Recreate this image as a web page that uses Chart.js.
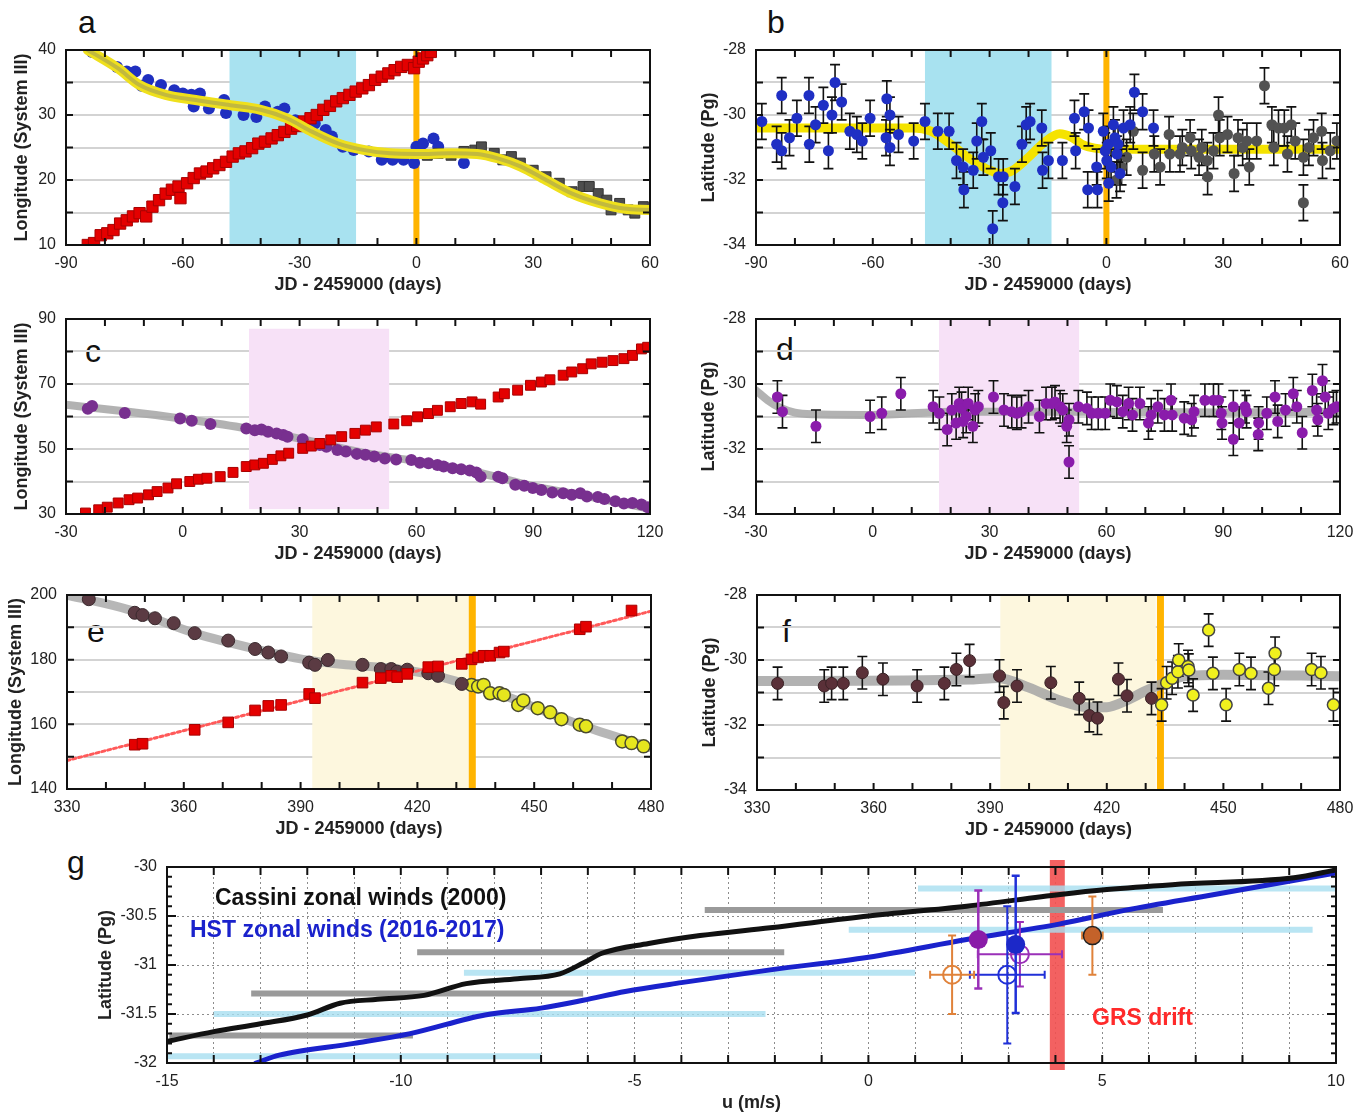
<!DOCTYPE html>
<html>
<head>
<meta charset="utf-8">
<script src="https://cdn.jsdelivr.net/npm/chart.js@4.4.1/dist/chart.umd.min.js"></script>
<style>
  body { margin: 0; background: #fff; }
  #fig { position: relative; width: 1370px; height: 1115px; overflow: hidden; font-family: "Liberation Sans", Arial, sans-serif; }
  #fig canvas { position: absolute; }
  .lbl { position: absolute; font-size: 32px; line-height: 32px; color: #111; }
  .note { position: absolute; font-weight: bold; font-size: 23px; line-height: 23px; white-space: nowrap; }
</style>
</head>
<body>
<div id="fig">
  <div class="lbl" style="left:78px;top:6px">a</div>
  <div class="lbl" style="left:767px;top:6px">b</div>
  <div class="lbl" style="left:85px;top:335px">c</div>
  <div class="lbl" style="left:776px;top:333px">d</div>
  <div class="lbl" style="left:87px;top:615px">e</div>
  <div class="lbl" style="left:782px;top:615px">f</div>
  <div class="lbl" style="left:67px;top:846px">g</div>
</div>
<script>
// ---- panel a: longitude vs time ----
const aRed = [[-84.4,10.0],[-82.8,10.3],[-81.1,11.5],[-79.4,11.8],[-77.8,12.3],[-76.1,13.3],[-74.4,13.8],[-72.8,14.4],[-71.1,14.9],[-69.4,14.4],[-67.8,15.9],[-66.1,16.9],[-64.4,17.9],[-62.8,18.5],[-61.1,19.0],[-60.6,17.2],[-58.9,19.5],[-57.2,20.3],[-55.6,21.0],[-53.9,21.3],[-52.2,21.8],[-50.6,22.3],[-48.9,22.8],[-47.2,23.6],[-45.6,24.1],[-43.9,24.4],[-42.2,24.9],[-40.6,25.6],[-38.9,25.9],[-37.2,26.4],[-35.6,26.9],[-33.9,27.4],[-32.2,27.9],[-30.6,28.3],[-28.9,29.0],[-27.2,29.5],[-25.6,30.0],[-23.9,30.8],[-22.2,31.4],[-20.6,32.1],[-18.9,32.6],[-17.2,33.1],[-15.6,33.6],[-13.9,34.1],[-12.2,34.6],[-10.6,35.4],[-8.9,35.9],[-7.2,36.4],[-5.6,36.9],[-3.9,37.4],[-2.2,37.7],[-0.6,37.2],[0.6,38.2],[1.7,38.7],[2.8,39.2],[3.7,39.7]];
const aBlue = [[-83.3,39.7],[-76.9,37.4],[-74.4,36.7],[-72.2,36.7],[-70.6,34.5],[-68.9,35.4],[-65.6,34.6],[-62.2,33.8],[-60.0,33.3],[-57.8,33.1],[-55.6,33.3],[-57.2,31.3],[-53.3,31.0],[-49.4,32.3],[-48.9,30.3],[-44.4,30.0],[-41.1,29.7],[-38.9,31.3],[-35.6,30.5],[-33.9,31.0],[-31.1,29.2],[-26.1,28.7],[-23.3,27.7],[-21.7,26.7],[-18.9,25.1],[-16.1,24.6],[-12.2,24.4],[-8.9,23.1],[-6.1,23.1],[-3.3,23.1],[-0.6,22.6],[0.0,25.1],[1.7,25.6],[4.4,26.4],[5.6,25.1],[12.2,22.6]];
const aGray = [[2.8,23.8],[5.6,24.1],[8.9,23.8],[12.2,24.4],[15.0,24.6],[16.7,25.1],[20.0,24.1],[22.2,23.1],[24.4,23.6],[26.7,22.6],[30.0,21.5],[33.3,20.5],[36.7,19.5],[40.0,18.2],[42.8,19.0],[44.4,19.0],[46.7,17.9],[48.9,16.9],[50.0,15.4],[52.2,16.4],[54.4,15.4],[56.1,14.9],[58.3,15.9]];
const aFit = [[-84.4,40.0],[-76.7,37.2],[-71.1,34.6],[-64.4,33.1],[-56.7,32.3],[-47.8,31.5],[-40.0,30.8],[-33.3,29.5],[-26.7,27.4],[-20.0,25.6],[-13.3,24.6],[-6.7,24.1],[0,24.0],[8.9,24.1],[15.6,24.0],[21.1,23.3],[26.7,22.1],[33.3,20.0],[40.0,17.9],[46.7,16.5],[53.3,15.6],[60.0,15.4]];
const aBand = [-48, -15.5];
const aGrs = 0;
const aXLabels = [-90, -60, -30, 0, 30, 60];
const aYLabels = [10, 20, 30, 40];

// ---- panel b: latitude vs time ----
const bBlue = [[-88.5,-30.2],[-84.7,-30.9],[-83.4,-31.1],[-83.4,-29.4],[-81.4,-30.7],[-79.5,-30.1],[-76.4,-29.4],[-76.3,-30.9],[-74.7,-30.3],[-72.7,-29.7],[-71.4,-31.1],[-70.5,-30.0],[-69.7,-29.0],[-68.0,-29.6],[-65.9,-30.5],[-64.1,-30.6],[-62.7,-30.8],[-60.7,-30.1],[-56.4,-29.5],[-55.6,-30.0],[-56.6,-30.7],[-55.6,-31.0],[-53.4,-30.6],[-49.5,-30.8],[-46.6,-30.2],[-43.3,-30.5],[-40.4,-30.5],[-38.5,-31.4],[-36.8,-31.6],[-36.6,-32.3],[-34.2,-31.7],[-33.3,-30.8],[-32.0,-30.2],[-31.6,-31.3],[-29.7,-31.1],[-29.2,-33.5],[-27.7,-31.9],[-26.5,-31.9],[-26.6,-32.7],[-23.5,-32.2],[-21.7,-30.9],[-20.6,-30.3],[-19.6,-30.2],[-16.6,-30.4],[-16.4,-31.7],[-14.9,-31.4],[-11.3,-31.4],[-8.2,-30.1],[-7.9,-31.1],[-5.7,-29.9],[-4.6,-30.4],[-4.8,-32.3],[-2.3,-32.3],[-2.5,-31.6],[-0.8,-30.5],[-0.3,-31.1],[0.1,-31.4],[0.6,-32.1],[0.5,-30.9],[1.2,-31.6],[1.8,-30.3],[2.2,-30.7],[2.7,-31.2],[3.0,-30.9],[3.5,-31.8],[4.4,-30.4],[6.1,-30.3],[7.2,-29.3],[9.3,-29.9],[12.1,-30.4]];
const bGray = [[6.9,-30.5],[5.2,-31.3],[2.6,-32.0],[3.9,-31.6],[9.3,-31.7],[12.3,-31.2],[13.8,-31.6],[16.1,-30.6],[16.3,-31.2],[18.9,-31.2],[19.5,-31.0],[21.5,-30.7],[21.8,-31.1],[23.8,-31.3],[24.5,-31.0],[26.0,-31.9],[25.9,-31.4],[27.5,-31.1],[28.8,-30.0],[29.1,-30.7],[31.1,-30.6],[32.8,-31.8],[33.8,-30.7],[35.0,-31.0],[36.1,-30.8],[36.7,-31.6],[38.6,-30.8],[40.6,-29.1],[42.5,-30.3],[43.0,-31.0],[44.2,-30.4],[45.7,-30.4],[46.5,-31.2],[47.5,-30.3],[48.5,-30.8],[50.6,-32.7],[50.6,-31.3],[52.0,-31.0],[53.2,-30.7],[55.3,-30.5],[55.5,-31.4],[57.5,-31.1],[59.2,-30.8]];
const bFit = [[-90,-30.4],[-50,-30.4],[-45,-30.5],[-40,-30.9],[-35,-31.35],[-30,-31.7],[-27,-31.8],[-24,-31.7],[-20,-31.3],[-16,-30.85],[-12,-30.58],[-9,-30.68],[-6,-30.92],[-3,-31.02],[0,-31.05],[30,-31.05],[60,-31.05]];
const bErr = 0.55;
const bBand = [-46.6, -14.1];
const bGrs = 0;
const bXLabels = [-90, -60, -30, 0, 30, 60];
const bYLabels = [-28, -30, -32, -34];

// ---- panel c ----
const cPurple = [[-24.4,62.4],[-23.3,63.2],[-14.9,61.1],[-0.7,59.4],[2.3,58.7],[7.1,57.7],[16.3,56.3],[18.5,55.8],[20.2,56.0],[21.9,55.3],[24.1,54.8],[25.8,54.3],[26.9,53.8],[30.8,53.0],[35.2,51.2],[36.9,50.7],[39.7,49.7],[41.9,49.2],[44.7,48.5],[46.9,48.2],[49.2,47.7],[51.9,47.1],[54.8,46.8],[58.7,46.6],[60.9,45.8],[63.1,45.6],[65.4,45.1],[67.0,44.6],[69.3,44.1],[71.5,43.8],[73.7,43.4],[75.4,42.8],[76.5,41.5],[81.0,41.5],[82.1,41.0],[85.4,39.0],[87.7,38.7],[89.9,38.0],[92.1,37.4],[94.9,36.6],[97.7,36.4],[99.9,35.9],[102.1,36.4],[103.8,35.4],[106.6,35.2],[108.3,34.6],[111.1,33.9],[113.3,33.2],[115.5,33.4],[117.8,32.9],[119.4,32.1]];
const cRed = [[-25.0,30.3],[-21.6,31.3],[-19.4,32.1],[-16.6,33.4],[-13.8,34.4],[-11.6,34.9],[-8.8,35.9],[-6.6,36.9],[-3.8,38.0],[-1.6,39.3],[1.8,40.0],[4.0,40.7],[6.2,41.0],[9.6,41.5],[12.9,42.8],[16.3,44.6],[18.5,45.1],[20.7,45.6],[23.0,46.8],[25.2,47.9],[27.2,48.7],[30.8,50.2],[33.0,50.9],[35.2,51.7],[38.0,52.8],[40.8,53.8],[44.2,54.8],[46.9,55.8],[49.7,56.8],[54.2,57.7],[57.5,58.7],[60.3,59.9],[63.1,60.9],[65.4,61.9],[68.7,63.0],[71.5,64.0],[74.3,64.5],[76.5,63.8],[81.0,66.0],[82.6,67.0],[86.0,68.1],[89.3,69.6],[92.1,70.6],[94.3,71.3],[97.7,72.7],[99.9,73.7],[102.7,74.7],[104.9,76.2],[107.7,76.7],[110.5,77.2],[113.3,77.8],[115.5,78.8],[117.8,80.8],[119.4,81.3]];
const cFit = [[-30,63.6],[-15,61.6],[0,59.3],[15,56.6],[30,53.2],[45,49.2],[60,46.2],[75,43.0],[90,38.6],[105,35.2],[120,31.6]];
const cBand = [17, 53];
const cXLabels = [-30, 0, 30, 60, 90, 120];
const cYLabels = [30, 50, 70, 90];

// ---- panel d ----
const dPurple = [[-24.5,-30.4],[-23.2,-30.85],[-14.6,-31.3],[-0.7,-31.0],[2.3,-30.9],[7.2,-30.3],[15.5,-30.7],[17.1,-30.9],[19.1,-31.4],[20.3,-30.8],[21.4,-31.2],[22.2,-30.6],[22.8,-30.75],[23.2,-31.15],[24.0,-31.0],[24.5,-30.6],[25.7,-31.3],[26.3,-30.8],[27.1,-30.7],[31.0,-30.4],[33.7,-30.8],[35.7,-30.85],[37.0,-30.9],[38.2,-30.85],[40.0,-30.7],[42.8,-31.0],[44.5,-30.6],[46.0,-30.6],[46.8,-30.55],[48.1,-30.7],[48.8,-30.8],[49.8,-31.3],[50.4,-31.1],[50.4,-32.4],[52.8,-30.7],[55.0,-30.75],[56.2,-30.9],[57.9,-30.9],[59.7,-30.9],[61.0,-30.5],[62.7,-30.55],[64.2,-30.85],[65.7,-30.6],[66.7,-30.95],[68.6,-30.6],[70.8,-31.2],[71.5,-30.95],[73.2,-30.7],[74.9,-30.95],[76.6,-30.5],[76.9,-30.95],[80.0,-31.05],[81.9,-31.1],[82.5,-30.85],[85.3,-30.5],[87.5,-30.5],[88.8,-30.5],[89.5,-30.9],[89.7,-31.2],[92.6,-31.7],[92.6,-30.7],[94.1,-31.2],[95.6,-30.7],[96.0,-30.85],[99.0,-31.55],[99.1,-31.2],[101.2,-30.9],[103.3,-30.4],[104.0,-31.15],[106.0,-30.8],[108.0,-30.3],[108.9,-30.7],[110.3,-31.5],[112.9,-30.2],[114.0,-30.8],[114.3,-31.1],[115.5,-29.9],[116.2,-30.4],[117.0,-30.9],[118.3,-30.75],[119.1,-30.7]];
const dFit = [[-30,-30.2],[-27,-30.5],[-24,-30.72],[-20,-30.88],[-15,-30.93],[0,-30.95],[20,-30.85],[50,-30.85],[90,-30.88],[120,-30.85]];
const dErr = 0.5;
const dBand = [17, 53];
const dXLabels = [-30, 0, 30, 60, 90, 120];
const dYLabels = [-28, -30, -32, -34];

// ---- panel e ----
const eDark = [[335.6,198.7],[347.4,194.5],[349.4,193.8],[352.6,192.8],[357.4,191.3],[362.8,188.2],[371.4,185.9],[378.3,183.3],[381.7,182.2],[385.0,181.0],[392.2,179.1],[393.7,178.4],[397.0,179.9],[405.9,178.4],[410.6,177.1],[413.3,177.1],[414.8,176.3],[417.4,176.9],[422.8,175.8],[425.3,175.0],[431.4,172.5]];
const eYellow = [[433.9,172.2],[435.6,171.7],[437.0,172.2],[438.7,169.6],[441.1,169.6],[442.2,169.1],[445.9,166.0],[447.2,167.4],[450.9,165.0],[454.1,163.7],[457.0,161.6],[461.7,159.9],[463.3,159.4],[472.6,154.7],[475.0,154.2],[478.1,153.2]];
const eRed = [[347.4,153.7],[349.4,154.0],[362.8,158.3],[371.4,160.6],[378.3,164.3],[381.7,165.7],[385.0,166.0],[392.2,169.4],[393.7,168.1],[405.9,172.9],[410.6,174.3],[413.3,175.0],[414.8,174.6],[417.4,175.6],[422.8,177.7],[425.3,177.9],[431.4,178.7],[433.9,180.1],[435.6,180.7],[437.0,181.2],[438.7,181.2],[441.1,182.2],[442.2,182.5],[461.7,189.4],[463.3,190.2],[475.0,195.2]];
const eRedFit = [[330,148.8],[480,195.0]];
const eFit = [[330,200.0],[346,195.4],[362.8,188.2],[379.4,183.0],[390.6,180.1],[401.7,178.4],[412.8,177.4],[423.9,175.3],[431.7,172.7],[440.6,169.6],[451.7,164.5],[462.8,159.4],[480,152.8]];
const eBand = [393, 433.3];
const eGrs = 434.1;
const eXLabels = [330, 360, 390, 420, 450, 480];
const eYLabels = [140, 160, 180, 200];

// ---- panel f ----
const fDark = [[335.3,-30.72],[347.3,-30.8],[349.2,-30.72],[352.2,-30.72],[357.1,-30.39],[362.4,-30.59],[371.2,-30.8],[378.2,-30.72],[381.3,-30.29],[384.7,-30.02],[392.4,-30.49],[393.5,-31.31],[396.9,-30.8],[405.6,-30.7],[412.9,-31.18],[415.5,-31.71],[417.6,-31.79],[423.0,-30.59],[425.2,-31.1],[431.5,-31.18]];
const fYellow = [[434.1,-31.38],[435.4,-30.7],[436.8,-30.56],[438.3,-30.36],[438.5,-30.0],[440.9,-30.2],[441.1,-30.31],[442.2,-31.08],[446.2,-29.08],[447.3,-30.41],[450.7,-31.38],[454.1,-30.29],[457.1,-30.41],[461.6,-30.87],[463.1,-30.29],[463.3,-29.79],[472.7,-30.29],[475.1,-30.39],[478.3,-31.38]];
const fFit = [[330,-30.65],[385,-30.6],[392,-30.55],[400,-30.85],[408,-31.25],[415,-31.45],[420,-31.45],[425,-31.25],[430,-30.95],[435,-30.7],[440,-30.5],[450,-30.45],[480,-30.5]];
const fErr = 0.5;
const fBand = [392.6, 432.6];
const fGrs = 433.8;
const fXLabels = [330, 360, 390, 420, 450, 480];
const fYLabels = [-28, -30, -32, -34];

// ---- panel g: zonal wind profiles ----
const gCassini = [[-15,-31.78],[-14,-31.68],[-13,-31.6],[-12,-31.51],[-11.3,-31.39],[-10.5,-31.35],[-9.5,-31.31],[-8.6,-31.19],[-7.5,-31.14],[-6.6,-31.09],[-6.1,-30.98],[-5.7,-30.88],[-4.7,-30.78],[-3.6,-30.7],[-2.1,-30.62],[0,-30.5],[2.1,-30.4],[4.1,-30.28],[5.1,-30.23],[6.5,-30.18],[9.1,-30.11],[10,-30.03]];
const gHST = [[-13.1,-32.0],[-12.6,-31.92],[-11.0,-31.8],[-9.8,-31.7],[-8.2,-31.51],[-7.0,-31.44],[-6.1,-31.36],[-5.2,-31.27],[-4.0,-31.18],[-2.1,-31.05],[0,-30.92],[2.1,-30.74],[4.1,-30.58],[5.5,-30.44],[7.4,-30.28],[10,-30.06]];
const gGrayBars = [[-30.44,-3.5,6.3],[-30.87,-9.65,-1.8],[-31.29,-13.2,-6.1],[-31.72,-14.95,-9.74]];
const gCyanBars = [[-30.22,1.06,10],[-30.64,-0.42,9.5],[-31.08,-8.65,1.0],[-31.5,-14.0,-2.2],[-31.93,-15,-7.0]];
const gGrs = [3.88, 4.2];
const gPurpleFill = [[2.35,-30.74]], gPurpleFillErrY = [0.5];
const gBlueFill = [[3.15,-30.79]], gBlueFillErrY = [0.7];
const gPurpleOpen = [[3.24,-30.89]], gPurpleOpenErrX = [0.9], gPurpleOpenErrY = [0.33];
const gBlueOpen = [[2.97,-31.1]], gBlueOpenErrX = [0.8], gBlueOpenErrY = [0.7];
const gOrangeOpen = [[1.79,-31.1]], gOrangeOpenErrX = [0.47], gOrangeOpenErrY = [0.4];
const gBrownFill = [[4.79,-30.7]], gBrownFillErrX = [0.22], gBrownFillErrY = [0.4];
const gXLabels = [-15, -10, -5, 0, 5, 10];
const gYLabels = [-30, -30.5, -31, -31.5, -32];

// ------------------------------------------------------------------
const FONT = '"Liberation Sans", Arial, sans-serif';
Chart.defaults.font.family = FONT;
Chart.defaults.color = '#222';

const CYAN = 'rgb(168,226,240)';
const PINK = 'rgb(247,225,247)';
const BEIGE = 'rgb(253,247,222)';
const ORANGE = '#ffb400';

const pts = arr => arr.map(([x, y]) => ({x, y}));
const near = (a, b) => Math.abs(a - b) < 1e-6;

// bands, vertical lines, error bars, frame and inward ticks
const decor = {
  id: 'decor',
  beforeDatasetsDraw(chart, args, o) {
    const {ctx, chartArea: ca, scales: {x, y}} = chart;
    ctx.save();
    for (const b of o.bands || []) {
      const x1 = x.getPixelForValue(b.from), x2 = x.getPixelForValue(b.to);
      const top = b.top != null ? y.getPixelForValue(b.top) : ca.top - (b.over || 0);
      const bot = b.bottom != null ? y.getPixelForValue(b.bottom) : ca.bottom + (b.over || 0);
      ctx.fillStyle = b.color;
      ctx.fillRect(x1, top, x2 - x1, bot - top);
    }
    for (const l of o.lines || []) {
      const px = x.getPixelForValue(l.x);
      ctx.fillStyle = l.color;
      ctx.fillRect(px - l.width / 2, ca.top, l.width, ca.height);
    }
    ctx.restore();
  },
  beforeDatasetDraw(chart, args) {
    const ds = chart.data.datasets[args.index];
    if (ds.errX == null && ds.errY == null) return;
    const {ctx, chartArea: ca, scales: {x, y}} = chart;
    const cap = ds.cap || 5;
    ctx.save();
    ctx.beginPath();
    ctx.rect(ca.left, ca.top, ca.width, ca.height);
    ctx.clip();
    ctx.strokeStyle = ds.errColor || '#111';
    ctx.lineWidth = ds.errWidth || 1.6;
    ds.data.forEach((p, i) => {
      const px = x.getPixelForValue(p.x), py = y.getPixelForValue(p.y);
      const ey = Array.isArray(ds.errY) ? ds.errY[i] : ds.errY;
      const ex = Array.isArray(ds.errX) ? ds.errX[i] : ds.errX;
      ctx.beginPath();
      if (ey) {
        const y1 = y.getPixelForValue(p.y + ey), y2 = y.getPixelForValue(p.y - ey);
        ctx.moveTo(px, y1); ctx.lineTo(px, y2);
        ctx.moveTo(px - cap, y1); ctx.lineTo(px + cap, y1);
        ctx.moveTo(px - cap, y2); ctx.lineTo(px + cap, y2);
      }
      if (ex) {
        const x1 = x.getPixelForValue(p.x - ex), x2 = x.getPixelForValue(p.x + ex);
        ctx.moveTo(x1, py); ctx.lineTo(x2, py);
        ctx.moveTo(x1, py - cap); ctx.lineTo(x1, py + cap);
        ctx.moveTo(x2, py - cap); ctx.lineTo(x2, py + cap);
      }
      ctx.stroke();
    });
    ctx.restore();
  },
  afterDraw(chart, args, o) {
    const {ctx, chartArea: ca, scales: {x, y}} = chart;
    ctx.save();
    ctx.strokeStyle = '#111';
    ctx.lineWidth = 2;
    ctx.beginPath();
    x.ticks.forEach(t => {
      const p = x.getPixelForValue(t.value);
      if (p <= ca.left + 1 || p >= ca.right - 1) return;
      const L = o.xTick || 7;
      ctx.moveTo(p, ca.bottom); ctx.lineTo(p, ca.bottom - L);
      ctx.moveTo(p, ca.top); ctx.lineTo(p, ca.top + L);
    });
    y.ticks.forEach(t => {
      const p = y.getPixelForValue(t.value);
      if (p <= ca.top + 1 || p >= ca.bottom - 1) return;
      const L = o.yTick ? o.yTick(t.value) : 7;
      ctx.moveTo(ca.left, p); ctx.lineTo(ca.left + L, p);
      ctx.moveTo(ca.right, p); ctx.lineTo(ca.right - L, p);
    });
    ctx.stroke();
    ctx.strokeRect(ca.left, ca.top, ca.width, ca.height);
    ctx.restore();
  }
};

const fig = document.getElementById('fig');

function labeler(list) {
  return v => (list.some(l => near(l, v)) ? String(v) : '');
}

function panel(P) {
  const top = P.t - 12, bottom = P.b + 56, right = P.r + 20;
  const cv = document.createElement('canvas');
  cv.width = right - P.left;
  cv.height = bottom - top;
  cv.style.left = P.left + 'px';
  cv.style.top = top + 'px';
  fig.appendChild(cv);
  const yw = P.l - P.left;
  new Chart(cv, {
    type: 'scatter',
    data: {datasets: P.datasets},
    options: {
      responsive: false,
      animation: false,
      devicePixelRatio: 1,
      layout: {padding: {top: 12, right: 20, left: 0, bottom: 0}},
      plugins: {legend: {display: false}, tooltip: {enabled: false}, decor: P.decor},
      scales: {
        x: {
          type: 'linear', min: P.x.min, max: P.x.max,
          afterFit: s => { s.height = 56; s.paddingLeft = 0; s.paddingRight = 0; },
          border: {display: false, dash: P.x.dash || []},
          grid: P.x.grid || {display: false, drawTicks: false},
          ticks: {stepSize: P.x.step, autoSkip: false, maxRotation: 0, maxTicksLimit: 1000,
                  padding: 9, font: {size: 16}, color: '#222', callback: labeler(P.x.labels)},
          title: {display: true, text: P.xTitle, color: '#222',
                  font: {size: 18, weight: 'bold'}, padding: {top: 0, bottom: P.xTitlePad || 4.7}}
        },
        y: {
          type: 'linear', min: P.y.min, max: P.y.max,
          afterFit: s => { s.width = yw; s.paddingTop = 0; s.paddingBottom = 0; },
          border: {display: false, dash: P.y.dash || []},
          grid: Object.assign({drawTicks: false, lineWidth: 2,
                  color: c => (near(c.tick.value, P.y.min) || near(c.tick.value, P.y.max)) ? 'rgba(0,0,0,0)' : '#d3d3d3'},
                  P.y.grid || {}),
          ticks: {stepSize: P.y.step, autoSkip: false, maxTicksLimit: 1000,
                  padding: 10, font: {size: 16}, color: '#222', callback: labeler(P.y.labels)},
          title: {display: true, text: P.yTitle, color: '#222',
                  font: {size: 18, weight: 'bold'}, padding: {top: P.yTitleX - P.left - 10.8, bottom: 0}}
        }
      }
    },
    plugins: [decor]
  });
}

const JD = 'JD - 2459000 (days)';
const LON = 'Longitude (System III)';
const LAT = 'Latitude (Pg)';

function fit(data, color, width, order) {
  return {data: pts(data), showLine: true, pointRadius: 0, borderColor: color, borderWidth: width,
          tension: 0.4, cubicInterpolationMode: 'monotone', borderCapStyle: 'round', order: order};
}
function dots(data, style, r, fill, stroke, bw, order, extra) {
  return Object.assign({data: pts(data), pointStyle: style, pointRadius: r, pointBackgroundColor: fill,
          pointBorderColor: stroke, pointBorderWidth: bw, backgroundColor: fill, borderColor: stroke, order: order}, extra || {});
}

// a
panel({
  l: 66, t: 50, r: 650, b: 245, left: 0, yTitleX: 22,
  x: {min: -90, max: 60, step: 10, labels: aXLabels},
  y: {min: 10, max: 40, step: 5, labels: aYLabels},
  xTitle: JD, yTitle: LON,
  decor: {bands: [{from: aBand[0], to: aBand[1], color: CYAN}], lines: [{x: aGrs, color: ORANGE, width: 6}]},
  datasets: [
    dots(aGray, 'rect', 7, '#4e4e4e', '#333', 1, 3),
    dots(aBlue, 'circle', 6, '#1f2fc0', '#1f2fc0', 0, 3),
    dots(aRed, 'rect', 8, '#e40000', '#a80000', 1, 2),
    fit(aFit, '#efe01c', 10, 1),
    fit(aFit, 'rgba(150,145,95,0.5)', 4, 0)
  ]
});

// b
panel({
  l: 756, t: 50, r: 1340, b: 245, left: 690, yTitleX: 709,
  x: {min: -90, max: 60, step: 10, labels: bXLabels},
  y: {min: -34, max: -28, step: 1, labels: bYLabels},
  xTitle: JD, yTitle: LAT,
  decor: {bands: [{from: bBand[0], to: bBand[1], color: CYAN}], lines: [{x: bGrs, color: ORANGE, width: 6}]},
  datasets: [
    fit(bFit, '#f5e300', 9, 5),
    dots(bGray, 'circle', 5.5, '#525252', '#525252', 0, 2, {errY: bErr}),
    dots(bBlue, 'circle', 5.5, '#1f2fc4', '#1f2fc4', 0, 1, {errY: bErr})
  ]
});

// c
panel({
  l: 66, t: 319, r: 650, b: 514, left: 0, yTitleX: 22,
  x: {min: -30, max: 120, step: 10, labels: cXLabels},
  y: {min: 30, max: 90, step: 10, labels: cYLabels},
  xTitle: JD, yTitle: LON,
  decor: {bands: [{from: cBand[0], to: cBand[1], top: 87, bottom: 31.5, color: PINK}]},
  datasets: [
    fit(cFit, 'rgba(165,165,165,0.85)', 8, 5),
    dots(cPurple, 'circle', 6, '#78308f', '#78308f', 0, 2),
    dots(cRed, 'rect', 7, '#e40000', '#a80000', 1, 1)
  ]
});

// d
panel({
  l: 756, t: 319, r: 1340, b: 514, left: 690, yTitleX: 709,
  x: {min: -30, max: 120, step: 10, labels: dXLabels},
  y: {min: -34, max: -28, step: 1, labels: dYLabels},
  xTitle: JD, yTitle: LAT,
  decor: {bands: [{from: dBand[0], to: dBand[1], color: PINK}]},
  datasets: [
    fit(dFit, 'rgba(165,165,165,0.85)', 8, 5),
    dots(dPurple, 'circle', 5.5, '#8a1cab', '#8a1cab', 0, 1, {errY: dErr})
  ]
});

// e
panel({
  l: 67, t: 595, r: 651, b: 789, left: 0, yTitleX: 16,
  x: {min: 330, max: 480, step: 10, labels: eXLabels},
  y: {min: 140, max: 200, step: 10, labels: eYLabels},
  xTitle: JD, yTitle: LON,
  decor: {bands: [{from: eBand[0], to: eBand[1], color: BEIGE}], lines: [{x: eGrs, color: ORANGE, width: 7}]},
  datasets: [
    fit(eFit, 'rgba(170,170,170,0.85)', 9, 6),
    Object.assign(fit(eRedFit, '#ff5a5a', 3, 5), {borderDash: [3, 3], tension: 0}),
    dots(eDark, 'circle', 6.5, '#5b3b43', '#3a2a2e', 1, 2),
    dots(eYellow, 'circle', 6.5, '#e6e61e', '#4a4a30', 1.5, 2),
    dots(eRed, 'rect', 7.5, '#e40000', '#a80000', 1, 1)
  ]
});

// f
panel({
  l: 757, t: 595, r: 1340, b: 790, left: 690, yTitleX: 710,
  x: {min: 330, max: 480, step: 10, labels: fXLabels},
  y: {min: -34, max: -28, step: 1, labels: fYLabels},
  xTitle: JD, yTitle: LAT,
  decor: {bands: [{from: fBand[0], to: fBand[1], color: BEIGE}], lines: [{x: fGrs, color: ORANGE, width: 7}]},
  datasets: [
    fit(fFit, 'rgba(165,165,165,0.85)', 10, 5),
    dots(fDark, 'circle', 6, '#5a3038', '#3a2226', 1, 2, {errY: fErr}),
    dots(fYellow, 'circle', 6, '#f0f01e', '#444', 1.5, 1, {errY: fErr})
  ]
});

// g
const gDatasets = [];
gCyanBars.forEach(([yy, x1, x2]) => gDatasets.push(Object.assign(
  fit([[x1, yy], [x2, yy]], 'rgba(168,222,240,0.8)', 6, 9), {tension: 0, borderCapStyle: 'butt'})));
gGrayBars.forEach(([yy, x1, x2]) => gDatasets.push(Object.assign(
  fit([[x1, yy], [x2, yy]], '#9a9a9a', 6, 8), {tension: 0, borderCapStyle: 'butt'})));
gDatasets.push(fit(gCassini, '#111', 5, 4));
gDatasets.push(fit(gHST, '#1a22cc', 5, 4));
gDatasets.push(dots(gOrangeOpen, 'circle', 9, 'rgba(0,0,0,0)', '#e0823a', 2, 3,
  {errX: gOrangeOpenErrX, errY: gOrangeOpenErrY, errColor: '#e0823a', errWidth: 2, cap: 4}));
gDatasets.push(dots(gBlueOpen, 'circle', 9, 'rgba(0,0,0,0)', '#2030d8', 2, 3,
  {errX: gBlueOpenErrX, errY: gBlueOpenErrY, errColor: '#2030d8', errWidth: 2, cap: 4}));
gDatasets.push(dots(gPurpleOpen, 'circle', 9, 'rgba(0,0,0,0)', '#9a30b8', 2, 3,
  {errX: gPurpleOpenErrX, errY: gPurpleOpenErrY, errColor: '#9a30b8', errWidth: 2, cap: 4}));
gDatasets.push(dots(gPurpleFill, 'circle', 9.5, '#8a1ca8', '#8a1ca8', 0, 2,
  {errY: gPurpleFillErrY, errColor: '#9a30b8', errWidth: 2.5, cap: 4}));
gDatasets.push(dots(gBlueFill, 'circle', 9.5, '#1c28c8', '#1c28c8', 0, 2,
  {errY: gBlueFillErrY, errColor: '#2030d8', errWidth: 2.5, cap: 4}));
gDatasets.push(dots(gBrownFill, 'circle', 9, '#c4622a', '#222', 1.5, 2,
  {errX: gBrownFillErrX, errY: gBrownFillErrY, errColor: '#e0823a', errWidth: 2, cap: 4}));

panel({
  l: 167, t: 867, r: 1336, b: 1063, left: 80, yTitleX: 106,
  x: {min: -15, max: 10, step: 1, labels: gXLabels, dash: [2, 3],
      grid: {display: true, drawTicks: false, lineWidth: 1,
             color: c => (near(c.tick.value, -15) || near(c.tick.value, 10)) ? 'rgba(0,0,0,0)' : '#8c8c8c'}},
  y: {min: -32, max: -30, step: 0.1, labels: gYLabels, dash: [2, 3],
      grid: {lineWidth: 1,
             color: c => {
               const v = c.tick.value;
               const half = Math.abs(v * 2 - Math.round(v * 2)) < 1e-6;
               return (half && !near(v, -32) && !near(v, -30)) ? '#8c8c8c' : 'rgba(0,0,0,0)';
             }}},
  xTitle: 'u (m/s)', xTitlePad: 5.2, yTitle: LAT,
  decor: {
    bands: [{from: gGrs[0], to: gGrs[1], over: 7, color: 'rgba(242,80,80,0.9)'}],
    xTick: 8,
    yTick: v => (Math.abs(v * 2 - Math.round(v * 2)) < 1e-6 ? 9 : 5)
  },
  datasets: gDatasets
});

// annotations in g
[['Cassini zonal winds (2000)', 215, 885.5, '#111'],
 ['HST zonal winds (2016-2017)', 190, 917.5, '#1a22cc'],
 ['GRS drift', 1092, 1005.5, '#ff2a2a']].forEach(([txt, x, y, col]) => {
  const d = document.createElement('div');
  d.className = 'note';
  d.textContent = txt;
  d.style.left = x + 'px';
  d.style.top = y + 'px';
  d.style.color = col;
  fig.appendChild(d);
});
</script>
</body>
</html>
